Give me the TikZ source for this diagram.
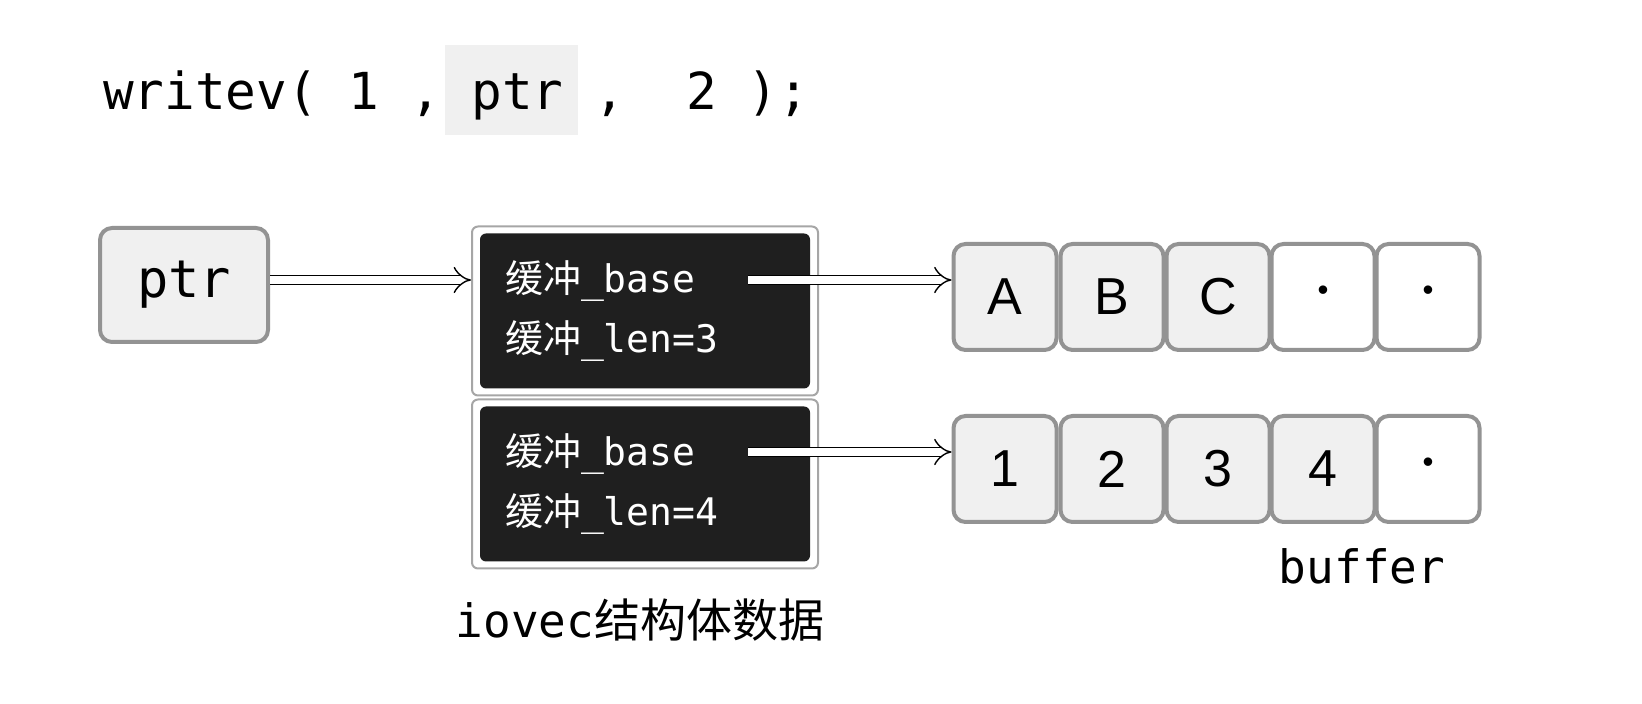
\documentclass[tikz,border=0pt]{standalone}
\usepackage{fontspec}
\setmainfont{Liberation Sans}
\setmonofont{DejaVu Sans Mono}
\newfontfamily\cjk{Noto Sans CJK SC}
\usetikzlibrary{arrows.meta}
\tikzset{
  cell/.style={draw=gray!85, line width=2pt, rounded corners=6pt, fill=gray!12,
    minimum width=51.5pt, minimum height=53pt, font=\fontsize{26}{26}\selectfont},
  free/.style={cell, fill=white},
  rec/.style={draw=gray!70, line width=1pt, fill=white, rounded corners=3pt,
    minimum width=173pt, minimum height=84.5pt},
  recin/.style={fill=black!88, rounded corners=3pt, minimum width=165pt, minimum height=77.5pt,
    text=white, align=left, text width=140pt, font=\ttfamily\fontsize{19}{30}\selectfont},
  dptr/.style={double, double distance=4pt, line width=0.7pt,
    -{Implies[length=9pt, width=16pt]}}
}
\newcommand\pdot{\raisebox{0.25ex}{\scalebox{0.6}{\textbullet}}}
\begin{document}
\begin{tikzpicture}[x=0.5pt, y=-0.5pt]
\useasboundingbox (0, 0) rectangle (1642, 704);
% call
\fill [gray!12] (445, 45) rectangle (578, 135);
\node [anchor=west, font=\ttfamily\fontsize{25.5}{25.5}\selectfont] (call) at (96, 95) {writev( 1 , ptr ,~ 2 );};

\node [cell, minimum width=84pt, minimum height=57pt, font=\ttfamily\fontsize{26}{26}\selectfont] (ptr) at (184, 285) {ptr};

% iovec records
\node [rec] (r1) at (645, 311) {};
\node [recin] (v1) at (645, 311) {{\cjk 缓冲}\_base\\{\cjk 缓冲}\_len=3};
\node [rec] (r2) at (645, 484) {};
\node [recin] (v2) at (645, 484) {{\cjk 缓冲}\_base\\{\cjk 缓冲}\_len=4};
\node [font=\ttfamily\fontsize{23}{23}\selectfont] (iov) at (640, 620) {iovec{\cjk 结构体数据}};

% buffers
\node [cell] (a1) at (1005, 297) {A};
\node [cell] (a2) at (1112, 297) {B};
\node [cell] (a3) at (1218, 297) {C};
\node [free] (a4) at (1323, 297) {\pdot};
\node [free] (a5) at (1428, 297) {\pdot};
\node [cell] (b1) at (1005, 469) {1};
\node [cell] (b2) at (1112, 469) {2};
\node [cell] (b3) at (1218, 469) {3};
\node [cell] (b4) at (1323, 469) {4};
\node [free] (b5) at (1428, 469) {\pdot};
\node [font=\ttfamily\fontsize{23}{23}\selectfont] (buf) at (1362, 566) {buffer};

\coordinate (s1) at (748, 280);
\coordinate (s2) at (748, 452);
\draw [dptr] (ptr.east |- s1) -- (r1.west |- s1);
\draw [dptr] (s1) -- (a1.west |- s1);
\draw [dptr] (s2) -- (b1.west |- s2);
\end{tikzpicture}
\end{document}
